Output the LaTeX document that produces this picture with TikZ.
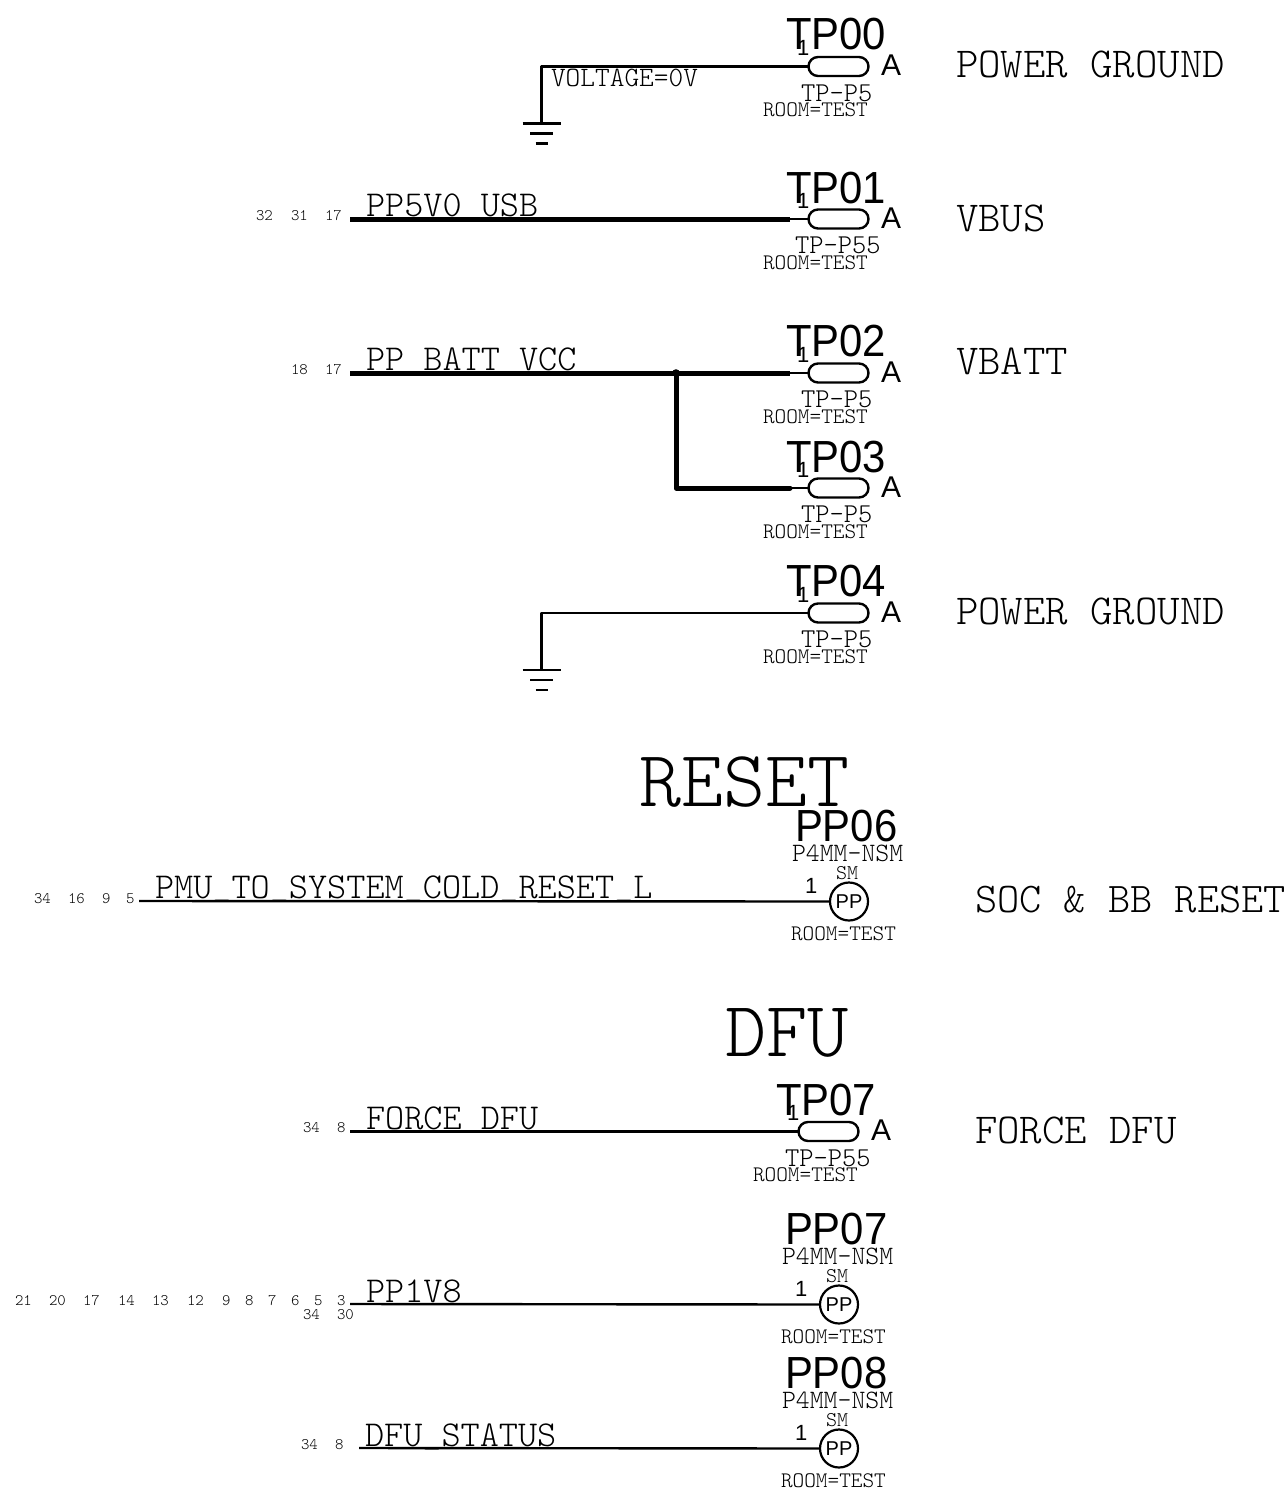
\documentclass[tikz,border=0pt]{standalone}
\usepackage{fontspec}
\setmainfont{Liberation Sans}
\setmonofont{Latin Modern Mono Light}
\newfontfamily\sansnarrow[FakeStretch=0.93]{Liberation Sans}
\usetikzlibrary{shapes.misc}
\newcommand{\mono}[1]{\ttfamily\fontsize{#1}{#1}\selectfont}
\newcommand{\sans}[1]{\rmfamily\fontsize{#1}{#1}\selectfont}
\newcommand{\nar}[1]{\sansnarrow\fontsize{#1}{#1}\selectfont}
\newcommand{\us}{\raisebox{.08em}{\_}}
\tikzset{
  txt/.style={inner sep=0pt,outer sep=0pt,anchor=base west,text=black},
  refname/.style={txt,font=\nar{45}},
  pinnum/.style={txt,font=\sans{22}},
  pinA/.style={txt,font=\sans{30}},
  foot/.style={txt,font=\mono{27.2}},
  room/.style={txt,font=\mono{22.2}},
  pkg/.style={txt,font=\mono{26.5}},
  smt/.style={txt,font=\mono{21}},
  net/.style={txt,font=\mono{36.45}},
  note/.style={txt,font=\mono{42.7}},
  notes/.style={txt,font=\mono{42.3}},
  xref/.style={txt,font=\mono{16}},
  head/.style={txt,font=\mono{80}},
  headd/.style={txt,font=\mono{78.5}},
  volt/.style={txt,font=\mono{28}},
  pill/.style={draw=black,line width=2.4pt,rounded rectangle,minimum width=60pt,minimum height=19pt,inner sep=0pt,outer sep=0pt},
  ppc/.style={draw=black,line width=2.2pt,circle,minimum size=38pt,inner sep=0pt,outer sep=0pt,font=\sans{20}},
  wire/.style={draw=black,line width=2.4pt},
  bus/.style={draw=black,line width=5pt},
  gbar/.style={draw=black,line width=2.4pt},
}
% id, x offset, wire y, name, footprint, footprint x, name y offset
\newcommand{\TP}[7]{%
\begin{scope}[shift={(#2,#3)}]
  \node[pill] (#1) at (838.5,0) {};
  \node[refname] (#1n) at (786,#7) {#4};
  \node[pinnum] (#1p) at (797,-11) {1};
  \node[pinA] (#1a) at (881,9) {A};
  \node[foot] (#1f) at (#6,34.5) {#5};
  \node[room] (#1r) at (763,50) {ROOM=TEST};
\end{scope}}
% id, x offset, wire y, name
\newcommand{\PPT}[4]{%
\begin{scope}[shift={(#2,#3)}]
  \node[ppc] (#1) at (849,0.5) {PP};
  \node[refname] (#1n) at (795,-60) {#4};
  \node[pkg] (#1k) at (792,-40) {P4MM-NSM};
  \node[smt] (#1s) at (836,-22) {SM};
  \node[pinnum] (#1p) at (805,-8) {1};
  \node[room] (#1r) at (791,39.5) {ROOM=TEST};
\end{scope}}
% id, coordinate
\newcommand{\GND}[2]{%
  \coordinate (#1) at (#2);
  \draw[gbar] ([xshift=-19pt]#1) -- ([xshift=19pt]#1);
  \draw[gbar] ([xshift=-11.5pt,yshift=-10pt]#1) -- ([xshift=11.5pt,yshift=-10pt]#1);
  \draw[gbar] ([xshift=-6pt,yshift=-20pt]#1) -- ([xshift=6pt,yshift=-20pt]#1);}
\begin{document}
\begin{tikzpicture}[x=1pt,y=-1pt]
\path[fill=white] (0,0) rectangle (1284,1499);
\useasboundingbox (0,0) rectangle (1284,1499);

\TP{tp0}{0}{66.5}{TP00}{TP-P5}{801}{-17.5}
\TP{tp1}{0}{219}{TP01}{TP-P55}{795}{-16}
\TP{tp2}{0}{373}{TP02}{TP-P5}{801}{-16.5}
\TP{tp3}{0}{488}{TP03}{TP-P5}{801}{-16}
\TP{tp4}{0}{613}{TP04}{TP-P5}{801}{-16.5}
\TP{tp7}{-10}{1131.5}{TP07}{TP-P55}{795}{-16.5}
\PPT{pp6}{0}{901}{PP06}
\PPT{pp7}{-10}{1304}{PP07}
\PPT{pp8}{-10}{1448}{PP08}

% TP00 ground
\GND{g0}{541.5,123.5}
\draw[wire,line join=round] (tp0.west) -- (541.5,66.5) -- (g0);
\node[volt] (v0) at (551,86) {VOLTAGE=0V};
% TP01
\coordinate (s1) at (350,219);
\coordinate (e1) at (790,219);
\draw[bus] (s1) -- (e1);
\draw[wire] (e1) -- (tp1.west);
\node[net] (n1) at (366,216.5) {PP5V0\us USB};
% TP02/TP03
\coordinate (s2) at (350,373);
\coordinate (e2) at (790,373);
\coordinate (e3) at (790,488);
\coordinate (j2) at (676,373);
\coordinate (j3) at (676,488);
\draw[bus] (s2) -- (e2);
\draw[bus,line cap=round,line join=round] (j2) -- (j3) -- (e3);
\fill (j2) circle (3.8pt);
\draw[wire] (e2) -- (tp2.west);
\draw[wire] (e3) -- (tp3.west);
\node[net] (n2) at (366,370.5) {PP\us BATT\us VCC};
% TP04
\GND{g4}{541.5,670}
\draw[wire,line join=round] (tp4.west) -- (541.5,613) -- (g4);
% reset
\coordinate (s6) at (139,901);
\draw[wire] (s6) -- (pp6.west);
\node[net] (n6) at (155,898.5) {PMU\us TO\us SYSTEM\us COLD\us RESET\us L};
% DFU
\coordinate (s7) at (350,1131.5);
\draw[wire] (s7) -- (tp7.west);
\node[net] (n7) at (366,1129.5) {FORCE\us DFU};
\coordinate (s8) at (350,1304);
\draw[wire] (s8) -- (pp7.west);
\node[net] (n8) at (366,1302) {PP1V8};
\coordinate (s9) at (359,1448);
\draw[wire] (s9) -- (pp8.west);
\node[net] (n9) at (365,1446) {DFU\us STATUS};

% headings
\node[head] (hreset) at (639,806) {RESET};
\node[headd] (hdfu) at (725,1056) {DFU};
% notes
\node[note] (a0) at (956,77) {POWER GROUND};
\node[note] (a1) at (956,231) {VBUS};
\node[note] (a2) at (956,374) {VBATT};
\node[note] (a4) at (956,624) {POWER GROUND};
\node[notes] (a6) at (975,912) {SOC \& BB RESET};
\node[note] (a7) at (975,1143) {FORCE DFU};
% cross references
\foreach \i/\x/\t in {a/256/32,b/291/31,c/325/17}{\node[xref] (x1\i) at (\x,220) {\t};}
\foreach \i/\x/\t in {a/291/18,b/325/17}{\node[xref] (x2\i) at (\x,374) {\t};}
\foreach \i/\x/\t in {a/34/34,b/68/16,c/102/9,d/126/5}{\node[xref] (x6\i) at (\x,903) {\t};}
\foreach \i/\x/\t in {a/303/34,b/337/8}{\node[xref] (x7\i) at (\x,1132) {\t};}
\foreach \i/\x/\t in {a/15/21,b/49/20,c/83/17,d/118/14,e/152/13,f/187/12,g/222/9,h/245/8,k/268/7,l/291/6,m/314/5,n/337/3}{\node[xref] (x8\i) at (\x,1305) {\t};}
\foreach \i/\x/\t in {a/303/34,b/337/30}{\node[xref] (y8\i) at (\x,1319) {\t};}
\foreach \i/\x/\t in {a/301/34,b/335/8}{\node[xref] (x9\i) at (\x,1449) {\t};}
\end{tikzpicture}
\end{document}
